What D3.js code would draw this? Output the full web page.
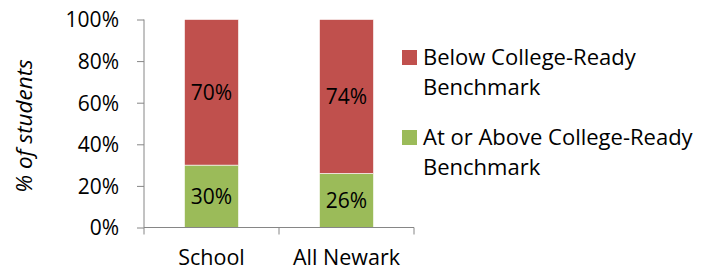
<!DOCTYPE html>
<html><head><meta charset="utf-8">
<script src="https://cdn.jsdelivr.net/npm/d3@7"></script>
<style>body{margin:0;background:#fff;} svg{display:block;font-family:"Open Sans", sans-serif;}</style>
</head><body>
<svg id="c" width="711" height="270"></svg>
<script>
const categories = ["School", "All Newark"];
const atOrAbove = [30, 26];
const below = [70, 74];
const seriesNames = ["Below College-Ready Benchmark", "At or Above College-Ready Benchmark"];
const legendLines = [["Below College-Ready", "Benchmark"], ["At or Above College-Ready", "Benchmark"]];
const yTicks = [0, 20, 40, 60, 80, 100];
const colors = {below: "#C0504D", above: "#9BBB59"};

const FONT = "'Open Sans', sans-serif";
const svg = d3.select("#c");
const x0 = 144, x1 = 414, yTop = 19.5, yBot = 227.5;
const x = d3.scaleBand().domain(categories).range([x0, x1]).paddingInner(0.6).paddingOuter(0.3);
const y = d3.scaleLinear().domain([0, 100]).range([yBot, yTop]);

const rows = categories.map((c, i) => ({cat: c, above: atOrAbove[i], below: below[i]}));
const stack = d3.stack().keys(["above", "below"])(rows);

const g = svg.append("g");
stack.forEach(layer => {
  g.selectAll(null).data(layer).enter().append("rect")
    .attr("x", d => x(d.data.cat))
    .attr("width", x.bandwidth())
    .attr("y", d => y(d[1]))
    .attr("height", d => y(d[0]) - y(d[1]))
    .attr("fill", layer.key === "above" ? colors.above : colors.below)
    .attr("stroke", "#fff").attr("stroke-width", 0.6);
  g.selectAll(null).data(layer).enter().append("text")
    .attr("x", d => x(d.data.cat) + x.bandwidth() / 2)
    .attr("y", d => (y(d[0]) + y(d[1])) / 2 + 7.5)
    .attr("text-anchor", "middle")
    .attr("font-size", 21).attr("fill", "#000")
    .text(d => (d[1] - d[0]) + "%");
});

// y axis
const yAxis = d3.axisLeft(y).tickValues(yTicks).tickFormat(d => d + "%").tickSize(7).tickPadding(18);
const ya = svg.append("g").attr("transform", `translate(${x0},0)`).call(yAxis);
ya.select(".domain").attr("stroke", "#868686").attr("d", `M0,${yTop}V${yBot}`);
ya.selectAll(".tick line").attr("stroke", "#868686");
ya.selectAll("text").attr("font-size", 21).attr("fill", "#000").attr("font-family", FONT).attr("x", -25).attr("dy", "0.35em");

// x axis
const xa = svg.append("g").attr("transform", `translate(0,${yBot})`);
xa.append("line").attr("x1", x0).attr("x2", x1).attr("stroke", "#868686");
const bounds = [x0, ...categories.map(c => x(c) + x.bandwidth() + (x.step() - x.bandwidth()) / 2)];
xa.selectAll(null).data(bounds).enter().append("line")
  .attr("x1", d => d).attr("x2", d => d).attr("y1", 0).attr("y2", 7).attr("stroke", "#868686");
xa.selectAll(null).data(categories).enter().append("text")
  .attr("x", d => x(d) + x.bandwidth() / 2).attr("y", 37.5)
  .attr("text-anchor", "middle").attr("font-size", 21.5).attr("fill", "#000")
  .text(d => d);

// y title
svg.append("text").attr("transform", "translate(32,126) rotate(-90)")
  .attr("text-anchor", "middle").attr("font-size", 22.5).attr("font-style", "italic")
  .attr("fill", "#000").text("% of students");

// legend
const leg = svg.append("g");
const legKeys = ["below", "above"];
legendLines.forEach((lines, i) => {
  const gy = 50 + i * 80;
  leg.append("rect").attr("x", 402).attr("y", gy).attr("width", 15).attr("height", 15).attr("fill", colors[legKeys[i]]);
  const t = leg.append("text").attr("x", 423).attr("y", gy + 14.5).attr("font-size", 22).attr("fill", "#000");
  lines.forEach((l, j) => t.append("tspan").attr("x", 423).attr("dy", j === 0 ? 0 : 30.5).text(l));
});
</script>
</body></html>
